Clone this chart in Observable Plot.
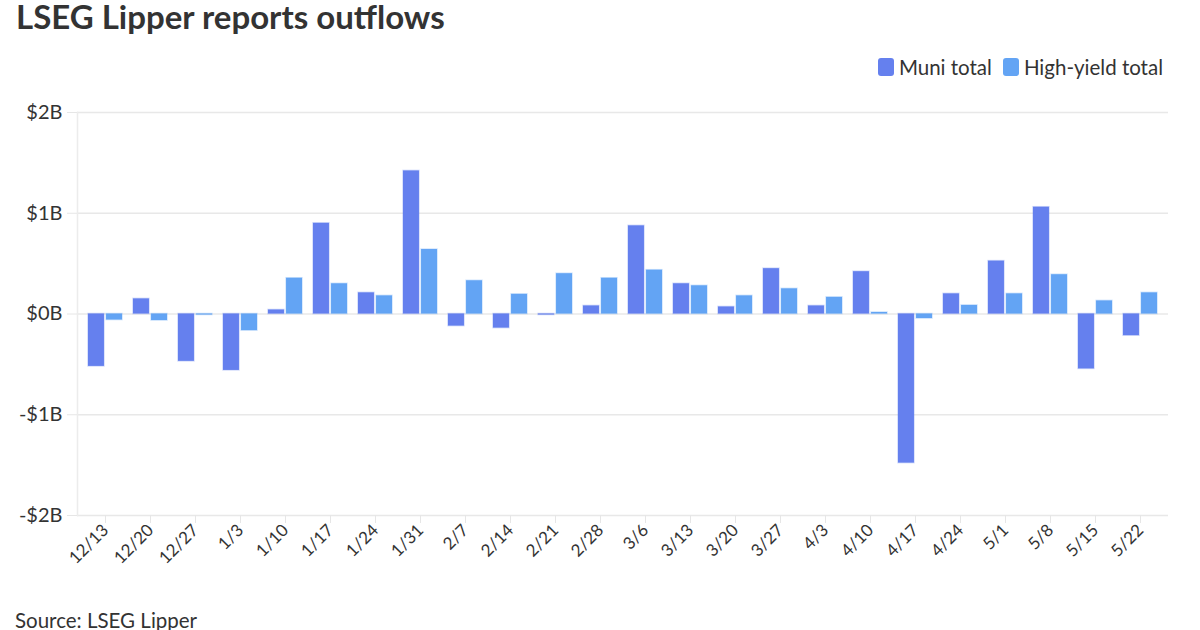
<!DOCTYPE html>
<html>
<head>
<meta charset="utf-8">
<script src="https://cdn.jsdelivr.net/npm/d3@7"></script>
<script src="https://cdn.jsdelivr.net/npm/@observablehq/plot@0.6"></script>
<style>
  body { margin: 0; background: #fff; font-family: Lato, "Noto Sans", sans-serif; color: #333; width: 1200px; height: 630px; overflow: hidden; position: relative; }
  #title { position: absolute; left: 16px; top: 3px; font-size: 33px; font-weight: 700; color: #333; white-space: nowrap; line-height: 26px; }
  #legend { position: absolute; right: 37px; top: 55px; display: flex; align-items: center; font-size: 20.5px; color: #333; }
  #legend .item { display: flex; align-items: center; margin-left: 11px; }
  #legend .sw { width: 16px; height: 18px; border-radius: 3px; margin-right: 5px; }
  #chart { position: absolute; left: 0; top: 90px; }
  #caption { position: absolute; left: 15px; top: 611px; font-size: 20.5px; color: #333; white-space: nowrap; line-height: 18px; }
</style>
</head>
<body>
<div id="title">LSEG Lipper reports outflows</div>
<div id="legend"></div>
<div id="chart"></div>
<div id="caption">Source: LSEG Lipper</div>
<script>
const dates = ["12/13","12/20","12/27","1/3","1/10","1/17","1/24","1/31","2/7","2/14","2/21","2/28",
               "3/6","3/13","3/20","3/27","4/3","4/10","4/17","4/24","5/1","5/8","5/15","5/22"];
// values in $ billions
const muniTotal = [-0.52, 0.15, -0.47, -0.56, 0.04, 0.90, 0.21, 1.42, -0.12, -0.14, -0.01, 0.08,
                   0.875, 0.30, 0.07, 0.45, 0.08, 0.42, -1.48, 0.20, 0.525, 1.06, -0.545, -0.215];
const highYieldTotal = [-0.06, -0.065, -0.01, -0.165, 0.355, 0.30, 0.18, 0.64, 0.33, 0.195, 0.40, 0.355,
                        0.435, 0.28, 0.18, 0.25, 0.165, 0.015, -0.045, 0.085, 0.20, 0.39, 0.13, 0.21];
const seriesNames = ["Muni total", "High-yield total"];
const seriesColors = ["#6580ee", "#63a4f4"];
const yTicks = [-2, -1, 0, 1, 2];

const rows = dates.map((d, i) => ({date: d, muni: muniTotal[i], hy: highYieldTotal[i]}));

// legend
const legend = document.getElementById("legend");
seriesNames.forEach((name, i) => {
  const item = document.createElement("div");
  item.className = "item";
  item.innerHTML = `<span class="sw" style="background:${seriesColors[i]}"></span><span>${name}</span>`;
  legend.appendChild(item);
});

const W = 1200, H = 505, ML = 77, MR = 32, MT = 22, MB = 80;
const xOpts = {type: "band", domain: dates, paddingInner: 0.25, paddingOuter: 0.125};
const bw = Plot.scale({x: {...xOpts, range: [ML, W - MR]}}).bandwidth;
const half = bw / 2;

const fmt = d => (d < 0 ? "-" : "") + "$" + Math.abs(d) + "B";

const plot = Plot.plot({
  width: W, height: H,
  marginLeft: ML, marginRight: MR, marginTop: MT, marginBottom: MB,
  style: {fontFamily: "Lato, 'Noto Sans', sans-serif", color: "#333", background: "#fff"},
  x: {...xOpts, label: null},
  y: {domain: [-2, 2], label: null},
  marks: [
    Plot.gridY(yTicks, {stroke: "#e8e8e8", strokeOpacity: 1, strokeWidth: 1.5}),
    Plot.frame({anchor: "left", stroke: "#ececec", strokeWidth: 1.5}),
    Plot.barY(rows, {x: "date", y: "muni", fill: seriesColors[0], stroke: seriesColors[0], strokeOpacity: 0.3, strokeWidth: 1.5, insetLeft: 0, insetRight: half + 1}),
    Plot.barY(rows, {x: "date", y: "hy", fill: seriesColors[1], stroke: seriesColors[1], strokeOpacity: 0.3, strokeWidth: 1.5, insetLeft: half + 1, insetRight: 0}),
    Plot.axisY(yTicks, {tickSize: 10, tickPadding: 5, stroke: "#e6e6e6", fill: "#333", fontSize: 20, tickFormat: fmt, label: null}),
    Plot.axisX({tickSize: 8, tickPadding: 4, stroke: "#e6e6e6", fill: "#333", fontSize: 17, tickRotate: -45, label: null})
  ]
});
document.getElementById("chart").appendChild(plot);
</script>
</body>
</html>
